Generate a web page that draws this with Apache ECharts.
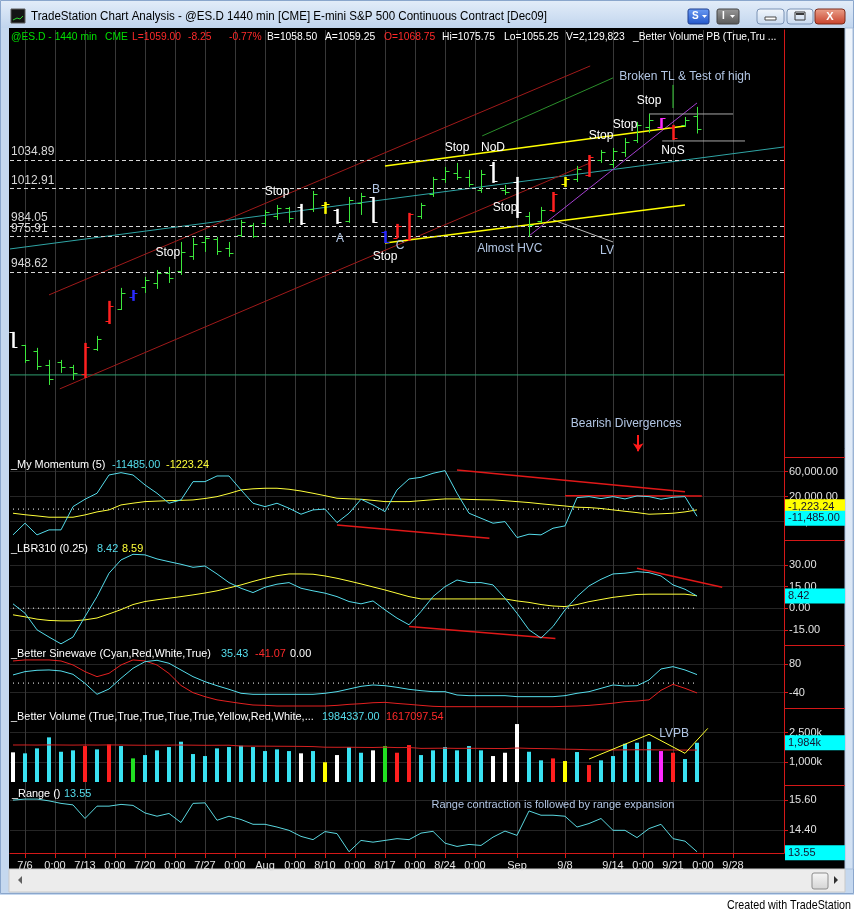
<!DOCTYPE html>
<html>
<head>
<meta charset="utf-8">
<title>TradeStation Chart Analysis - @ES.D</title>
<script src="https://cdn.jsdelivr.net/npm/echarts@6.0.0/dist/echarts.min.js"></script>
<style>
html,body{margin:0;padding:0;background:#ffffff;overflow:hidden;}
#chart{width:854px;height:913px;}
</style>
</head>
<body>
<div id="chart"></div>
<script>
// ================= DATA =================
const dates = ['7/2','7/6','7/7','7/8','7/9','7/10','7/13','7/14','7/15','7/16','7/17','7/20','7/21','7/22','7/23','7/24','7/27','7/28','7/29','7/30','7/31','8/3','8/4','8/5','8/6','8/7','8/10','8/11','8/12','8/13','8/14','8/17','8/18','8/19','8/20','8/21','8/24','8/25','8/26','8/27','8/28','8/31','9/1','9/2','9/3','9/4','9/8','9/9','9/10','9/11','9/14','9/15','9/16','9/17','9/18','9/21','9/22','9/23'];

const opens  = [902,892,888,877,879,875,870,889,911,920,929,937,940,948,949,961,972,974,967,977,985,986,992,998,999,997,1000,996,988,1002,1006,979,975,974,992,1009,1020,1025,1022,1012,1031,1012,1018,992,988,996,1016,1020,1023,1035,1032,1041,1050,1060,1060,1060,1062,1068.75];
const highs  = [902.4,892.4,890.1,880.8,880.8,877.0,893.9,899.3,926.3,936.3,934.7,944.8,950.1,952.5,971.7,974.8,976.3,975.6,971.7,988.7,986.4,996.4,1000.2,998.7,1001.0,1011.0,1002.5,997.2,1006.4,1009.5,1006.4,980.2,985.6,994.1,1001.8,1021.8,1029.5,1032.6,1027.2,1027.2,1033.3,1015.6,1021.8,994.8,998.7,1010.2,1021.8,1030.3,1038.7,1042.6,1044.1,1051.8,1064.2,1070.3,1067.2,1061.9,1068.0,1075.75];
const lows   = [890.1,878.5,873.1,861.5,870.8,865.4,866.9,887.7,908.5,919.3,926.3,932.4,935.5,940.1,946.3,957.9,964.0,961.7,960.2,975.6,974.8,984.0,988.7,986.4,984.8,994.8,993.3,985.6,986.4,992.5,986.4,970.9,974.8,972.5,989.4,1006.4,1017.2,1019.5,1014.1,1009.5,1017.2,1007.9,990.2,975.6,986.4,994.8,1014.1,1017.9,1021.8,1032.6,1028.7,1037.2,1048.0,1055.7,1058.8,1050.3,1060.3,1055.25];
const closes = [890.5,881,876,866,875,871,891,897,922,932,932,942,948,944,964,970,975,965,963,987,976,995,998,990,986,1009,1001,987,1004,1007,987,972,984,993,1000,1020,1026,1022,1016,1024,1019,1010,995,985,996,1009,1020,1028,1037,1041,1042,1049,1062,1066,1067,1052,1066,1059];
// price-bar signal code per bar (g normal, r, w, b, y, m = Better Volume PB classes)
const barSignal = ['w','g','g','g','g','g','r','g','r','g','b','g','g','g','g','g','g','g','g','g','g','g','g','g','w','g','y','w','g','g','w','b','r','r','g','g','g','g','g','g','w','g','w','g','g','r','y','g','r','g','g','g','g','g','m','r','g','g'];

const priceLevels = [1034.89, 1012.91, 984.05, 975.91, 948.62];

// trend / annotation lines in [bar index, price]
const greenFloor  = [[-0.25,869.25],[64.25,869.25]];
const tealLine    = [[-0.25,966.3],[64.25,1044.9]];
const redUpper    = [[3.0,930.9],[48.1,1107.3]];
const redLower    = [[3.9,858.5],[48.1,1032.6]];
const greenUpper  = [[39.1,1053.4],[50.0,1098.1]];
const yellowUpper = [[31.0,1030.3],[56.0,1061.1]];
const yellowLower = [[31.0,970.95],[56.0,1000.2]];
const purpleLine  = [[42.9,975.6],[57.0,1078.8]];
const lvLine      = [[45.0,988.7],[50.0,971.7]];
const grayTop     = [[53.0,1070.3],[60.0,1070.3]];
const grayLow     = [[54.1,1049.5],[61.0,1049.5]];
const greenVert   = [[55.0,1092.7],[55.0,1074.9]];
const arrowPts    = [[52.1,823.0],[52.1,810.5]];

// text annotations on the price pane
const annoText  = ['Stop','Stop','B','A','C','Stop','Stop','NoD','Stop','Almost HVC','LV','Stop','Stop','Stop','NoS','Broken TL & Test of high','Bearish Divergences'];
const annoIdx   = [12.9,22.0,30.25,27.25,32.25,31.0,37.0,40.0,41.0,41.4,49.5,49.0,51.0,53.0,55.0,56.0,51.1];
const annoPrice = [963.2,1010.2,1011.8,974.0,968.6,960.2,1044.1,1044.1,997.9,966.3,964.8,1053.4,1061.9,1080.3,1041.8,1098.8,831.5];
const annoTone  = ['w','w','b','b','b','w','w','w','w','b','b','w','w','w','w','b','b'];

// My Momentum (5)
const momValue = [-41300,-22600,-41300,-33300,-33300,4000,15800,25400,54700,58400,54700,38700,25400,9400,14700,44000,44000,53100,53100,30700,9400,4000,9400,1400,-8200,-1300,0,-21600,-6600,15800,6700,-4000,30700,48300,51000,57400,61600,25400,-6600,-14600,-22600,-20000,-45600,-40200,-41300,-30600,-26900,18400,20000,16800,20000,16300,21100,20000,15800,19000,20000,-11485];
const momAvg   = [-6600,-9000,-10900,-13000,-13000,-13000,-9300,-4500,-1300,6700,9500,12000,12800,13600,14000,14700,17000,20000,25000,30700,32500,33400,33400,31800,29000,25400,21500,17400,16500,15800,14000,12000,12000,12000,13500,15000,16300,16300,15500,15000,14700,13500,12000,10500,8500,6700,5000,3000,2500,1000,-1300,-3500,-5600,-8200,-7500,-6600,-4500,-1223.24];
const momDiv1 = [[37,62700],[56,28000]];
const momDiv2 = [[46,21600],[57.4,21100]];
const momDiv3 = [[27,-25300],[39.7,-46600]];

// LBR310 (0.25)
const lbrFast = [3.0,-3.5,-15.0,-20.0,-24.7,-20.0,-5.8,8.0,24.2,33.4,37.3,36.9,34.1,32.2,30.4,28.3,29.2,23.7,17.7,13.8,10.8,14.5,16.6,17.7,13.8,12.0,10.4,8.0,4.6,3.0,5.0,-1.2,-6.9,-11.5,-2.3,8.0,14.9,19.5,17.7,17.7,16.1,6.9,-3.5,-15.0,-20.7,-12.7,-1.2,8.0,15.4,20.0,23.7,24.2,25.3,24.6,22.3,16.1,13.1,8.42];
const lbrSlow = [-4.6,-6.0,-7.6,-8.5,-8.8,-8.8,-8.1,-6.8,-4.0,-1.0,2.5,4.6,5.8,6.9,8.0,9.2,10.5,12.0,14.0,16.1,18.5,20.7,22.5,23.7,23.7,23.5,22.3,20.7,18.8,16.8,14.7,12.6,10.3,8.0,6.4,6.4,6.4,6.4,6.4,6.4,6.4,6.4,5.0,4.0,2.5,1.5,1.1,2.5,4.5,6.0,7.5,8.5,9.5,9.7,9.7,9.7,9.7,8.59];
const lbrDiv1 = [[52,27.6],[59.1,14.5]];
const lbrDiv2 = [[33,-12.7],[45.2,-21.0]];

// Better Sinewave
const sineWave = [34,47.8,53.4,54.8,50.6,36.6,-1.0,-46.9,-24.7,20.1,61.8,89.5,95.2,82.7,54.8,26.8,5.9,-10.9,-26.0,-42.6,-46.9,-46.9,-46.9,-46.9,-46.9,-46.9,-42.6,-35.9,-24.7,-13.5,-7.9,-10.9,-17.6,-26.0,-31.6,-35.9,-35.9,-49.7,-52.5,-52.5,-52.5,-52.5,-56.7,-56.7,-56.7,-56.7,-52.5,-42.6,-35.9,-21.9,-7.9,-12.1,-10.9,13.0,58.9,68.6,54.8,35.43];
const leadWave = [92.4,96.6,96.6,96.6,92.4,75.7,47.8,26.8,40.8,75.7,96.6,92.4,75.7,40,-10,-40,-56.7,-70,-77.6,-85,-91.5,-93,-95.7,-95.7,-95.7,-95.7,-95.7,-93,-88.8,-86,-82,-80.4,-85,-88.8,-93,-97,-98.5,-98.5,-98.5,-98.5,-98.5,-98.5,-98.5,-98.5,-98.5,-98.5,-97,-95.7,-93,-88.8,-84,-77.6,-74.8,-70,-30,-5.2,-21.9,-41.07];

// Better Volume
const volumes = [1500000,1450000,1700000,2257000,1530000,1600000,1818000,1650000,1900000,1818000,1195000,1363000,1600000,1767000,2037000,1414000,1313000,1700000,1767000,1835000,1767000,1565000,1650000,1565000,1450000,1565000,1000000,1363000,1767000,1480000,1600000,1818000,1480000,1868000,1363000,1600000,1767000,1600000,1818000,1600000,1313000,1480000,2929000,1530000,1096000,1195000,1060000,1515000,858000,1096000,1313000,1935000,1985000,2037000,1565000,1480000,1161000,1984337];
const volSignal = ['w','c','c','c','c','c','r','c','r','c','g','c','c','c','c','c','c','c','c','c','c','c','c','c','w','c','y','w','c','c','w','g','r','r','c','c','c','c','c','c','w','w','w','c','c','r','y','c','r','c','c','c','c','c','m','r','c','c'];
const volAvg = [1870000,1872000,1868000,1875000,1870000,1866000,1872000,1868000,1874000,1870000,1862000,1858000,1860000,1864000,1870000,1862000,1855000,1858000,1860000,1820000,1815000,1812000,1808000,1805000,1800000,1790000,1760000,1755000,1758000,1750000,1745000,1760000,1740000,1745000,1700000,1705000,1710000,1700000,1705000,1700000,1695000,1690000,1720000,1700000,1690000,1680000,1660000,1650000,1630000,1625000,1620000,1625000,1630000,1628000,1622000,1618000,1615000,1617097.54];
const lvpbLine = [[48,1161000],[53,2410000],[56,1450000],[57.9,2712000]];

// Range ()
const rangeVals = [15.60,15.64,15.64,15.57,15.47,15.41,14.87,15.36,15.36,15.43,15.39,15.09,14.96,15.07,14.71,15.47,15.49,14.80,14.96,14.83,14.64,14.64,14.53,14.40,14.16,14.03,14.35,14.27,13.55,14.00,13.93,14.00,14.07,14.03,14.29,14.36,13.89,13.76,13.84,13.80,14.13,14.37,14.20,15.17,15.00,15.00,14.96,14.53,14.67,14.87,14.40,14.40,14.11,14.47,14.64,14.07,13.97,13.55];

// axis ticks
const tickIndex  = [1,3.5,6,8.5,11,13.5,16,18.5,21,23.5,26,28.5,31,33.5,36,38.5,42,46,50,52.5,55,57.5,60];
const tickLabels = ['7/6','0:00','7/13','0:00','7/20','0:00','7/27','0:00','Aug','0:00','8/10','0:00','8/17','0:00','8/24','0:00','Sep','9/8','9/14','0:00','9/21','0:00','9/28'];
const momTicks   = [60000, 20000, -20000];
const lbrTicks   = [30, 15, 0, -15];
const sineTicks  = [80, -40];
const volTicks   = [2500000, 1000000];
const rangeTicks = [15.6, 14.4];

// ================= STYLE / LAYOUT =================
const FONT = 'Arial, "Liberation Sans", Helvetica, sans-serif';
const AX = '#e2e2e2', RED_AX = '#d41818', GRID_V = '#383838', GRID_H = '#252525';
const CYAN = '#55dceb', YEL = '#ffff3a', LBLUE = '#b2c6e4', RED = '#ff2a2a';
const priceColor = {g:'#3ce83c', r:'#ff2020', w:'#ffffff', b:'#2a2aff', y:'#ffff00', m:'#ff2aff'};
const volColor   = {c:'#3ae2f2', r:'#ff2020', w:'#ffffff', g:'#22e022', y:'#ffff00', m:'#ff2aff'};

const _ctx = document.createElement('canvas').getContext('2d');
function fit(text, font, target){ _ctx.font = font; const w = _ctx.measureText(text).width; const s = w > 0 ? target / w : 1; return Math.max(0.7, Math.min(1.1, s)); }
const LEG_FONT = '11px ' + FONT;
const LEG_S = fit('_Better Sinewave (Cyan,Red,White,True)', LEG_FONT, 200);
const HDR_S = fit('@ES.D - 1440 min', LEG_FONT, 86);

const grids = [
  {left:10, right:70, top:30,  height:427},
  {left:10, right:70, top:457, height:83},
  {left:10, right:70, top:540, height:105},
  {left:10, right:70, top:645, height:63},
  {left:10, right:70, top:708, height:77},
  {left:10, right:70, top:785, height:68}
];

function xAxisFor(gi){
  const last = gi === 5;
  return {type:'value', gridIndex:gi, min:-0.25, max:64.25,
    axisLine:{show:last, onZero:false, lineStyle:{color:RED_AX}},
    axisTick:{show:last, customValues:tickIndex, length:5, lineStyle:{color:RED_AX}},
    axisLabel:{show:last, customValues:tickIndex, color:AX, fontFamily:FONT, fontSize:11, margin:7, hideOverlap:false,
      formatter: v => { const k = tickIndex.indexOf(v); return k < 0 ? '' : tickLabels[k]; }},
    splitLine:{show:true, lineStyle:{color:GRID_V, width:1}}};
}
function yAxisFor(gi, min, max, vals, fmt){
  const ax = {type:'value', gridIndex:gi, position:'right', min, max,
    axisLine:{show:true, onZero:false, lineStyle:{color:RED_AX}},
    axisTick:{show:!!vals, length:4, lineStyle:{color:RED_AX}},
    axisLabel:{show:!!vals, color:AX, fontFamily:FONT, fontSize:11, margin:5, formatter:fmt},
    splitLine:{show:!!vals, lineStyle:{color:GRID_H}}};
  if (vals) { ax.axisTick.customValues = vals; ax.axisLabel.customValues = vals; }
  return ax;
}
const fmt2 = v => v.toFixed(2);
const fmtMom = v => v.toLocaleString('en-US', {minimumFractionDigits:2, maximumFractionDigits:2});
const fmtVol = v => (v/1000).toLocaleString('en-US') + 'k';

function line(gi, data, color, o){
  o = o || {};
  const s = {type:'line', xAxisIndex:gi, yAxisIndex:gi, data, showSymbol:false, symbol:'none', silent:true,
    lineStyle:{color, width:o.width || 1, type:o.type || 'solid'}, z:o.z || 3};
  if (o.markLine) { s.markLine = o.markLine; s.clip = false; }
  return s;
}
function valueBox(value, text, bg, dy){
  return {silent:true, symbol:'none', animation:false,
    lineStyle:{color:'rgba(0,0,0,0)', width:0},
    label:{show:true, position:'end', distance:1, formatter:text, backgroundColor:bg, color:'#141430',
      fontFamily:FONT, fontSize:11, padding:[2,3,2,3], width:54, lineHeight:11, offset:[0, dy || 0]},
    data:[{yAxis:value}]};
}
function textSeries(gi, xs, ys, texts, colorFn, size){
  return {type:'custom', xAxisIndex:gi, yAxisIndex:gi, silent:true, z:8, clip:false,
    data: xs.map((x, k) => [x, ys[k], k]),
    renderItem: (params, api) => {
      const k = api.value(2);
      const p = api.coord([api.value(0), api.value(1)]);
      return {type:'text', x:p[0], y:p[1], style:{text:texts[k], fill:colorFn(k), font:size + 'px ' + FONT, align:'center', verticalAlign:'middle'}};
    }};
}
const idx = a => a.map((v, i) => [i, v]);

// ---------- series ----------
const series = [];
// price pane lines
series.push(Object.assign(line(0, greenFloor, '#2f9f70'), {markLine:{silent:true, symbol:'none', animation:false,
  lineStyle:{color:'#d6d6d6', width:1, type:[4,3]},
  label:{show:true, position:'insideStartTop', color:'#d8d8d8', fontFamily:FONT, fontSize:12, distance:[1,2], formatter:p => p.value.toFixed(2)},
  data: priceLevels.map(v => ({yAxis:v}))}}));
series.push(Object.assign(line(0, tealLine, '#2fa5a5'), {markLine:{silent:true, symbol:['none','arrow'], symbolSize:8, animation:false,
  lineStyle:{color:'#ff1a1a', width:2, type:'solid'}, label:{show:false},
  data:[[{coord:arrowPts[0]},{coord:arrowPts[1]}]]}}));
series.push(line(0, redUpper, '#a01a1a'));
series.push(line(0, redLower, '#a01a1a'));
series.push(line(0, greenUpper, '#2b8f2b'));
series.push(line(0, purpleLine, '#a43fcf'));
series.push(line(0, lvLine, '#b8b8b8'));
series.push(line(0, grayTop, '#a8a8a8'));
series.push(line(0, grayLow, '#a8a8a8'));
series.push(line(0, greenVert, '#33cc33'));
series.push(line(0, yellowUpper, '#ffff00', {width:1.5}));
series.push(line(0, yellowLower, '#ffff00', {width:1.5}));
// OHLC bars
series.push({type:'custom', xAxisIndex:0, yAxisIndex:0, silent:true, z:5,
  data: dates.map((d, i) => [i, opens[i], closes[i], lows[i], highs[i]]),
  encode:{x:0, y:[1,2,3,4]},
  renderItem: (params, api) => {
    const i = api.value(0);
    const pO = api.coord([i, api.value(1)]), pC = api.coord([i, api.value(2)]);
    const pL = api.coord([i, api.value(3)]), pH = api.coord([i, api.value(4)]);
    const code = barSignal[params.dataIndex];
    const col = priceColor[code];
    const w = code === 'g' ? 1 : 2.5;
    const x = Math.round(pH[0]) + 0.5;
    const yo = Math.round(pO[1]) + 0.5, yc = Math.round(pC[1]) + 0.5;
    return {type:'group', children:[
      {type:'line', shape:{x1:x, y1:pH[1], x2:x, y2:pL[1]}, style:{stroke:col, lineWidth:w}},
      {type:'line', shape:{x1:x - 4, y1:yo, x2:x, y2:yo}, style:{stroke:col, lineWidth:1}},
      {type:'line', shape:{x1:x, y1:yc, x2:x + 4, y2:yc}, style:{stroke:col, lineWidth:1}}
    ]};
  }});
series.push(textSeries(0, annoIdx, annoPrice, annoText, k => annoTone[k] === 'w' ? '#ffffff' : LBLUE, 12));

// momentum pane
series.push(line(1, [[0,0],[57,0]], '#ffffff', {type:[1,4]}));
series.push(line(1, momDiv1, '#e01818', {width:1.5}));
series.push(line(1, momDiv2, '#e01818', {width:1.5}));
series.push(line(1, momDiv3, '#e01818', {width:1.5}));
series.push(line(1, idx(momAvg), YEL, {markLine:valueBox(-1223.24, '-1,223.24', '#ffff00', -3), z:4}));
series.push(line(1, idx(momValue), CYAN, {markLine:valueBox(-11485, '-11,485.00', '#00ffff', 2), z:5}));

// LBR pane
series.push(line(2, [[0,0],[57,0]], '#ffffff', {type:[1,4]}));
series.push(line(2, lbrDiv1, '#e01818', {width:1.5}));
series.push(line(2, lbrDiv2, '#e01818', {width:1.5}));
series.push(line(2, idx(lbrSlow), YEL));
series.push(line(2, idx(lbrFast), CYAN, {markLine:valueBox(8.42, '8.42', '#00ffff'), z:5}));

// Sinewave pane
series.push(line(3, [[0,0],[57,0]], '#ffffff', {type:[1,4]}));
series.push(line(3, idx(leadWave), '#e42020'));
series.push(line(3, idx(sineWave), CYAN));

// Volume pane
series.push({type:'bar', xAxisIndex:4, yAxisIndex:4, silent:true, barWidth:4, z:3,
  data: volumes.map((v, i) => ({value:[i, v], itemStyle:{color:volColor[volSignal[i]]}}))});
series.push(line(4, idx(volAvg), '#d42020', {z:4}));
series.push(line(4, lvpbLine, '#ffff30', {z:5, markLine:valueBox(1984337, '1,984k', '#00ffff')}));
series.push(textSeries(4, [55.1], [2420000], ['LVPB'], () => LBLUE, 12));

// Range pane
series.push(line(5, idx(rangeVals), '#5ad6de', {markLine:valueBox(13.55, '13.55', '#00ffff', 1)}));
series.push(textSeries(5, [45.0], [15.4], ['Range contraction is followed by range expansion'], () => LBLUE, 11));

// ---------- chrome & legends ----------
const G = [];
function txt(x, y, text, fill, font, sx, align){
  G.push({type:'text', x, y, scaleX:sx || 1, z:20, silent:true,
    style:{text, fill, font, verticalAlign:'middle', align:align || 'left'}});
}
function rect(x, y, w, h, fill, stroke, r, z){
  G.push({type:'rect', silent:true, z:(z === undefined ? -10 : z), shape:{x, y, width:w, height:h, r:r || 0},
    style:{fill, stroke:stroke || null, lineWidth:1}});
}
const grad = (a, b) => ({type:'linear', x:0, y:0, x2:0, y2:1, colorStops:[{offset:0, color:a},{offset:1, color:b}]});

// frame
rect(0, 0, 854, 913, '#c5d8ef', null, 0, -12);
rect(0, 0, 854, 28, grad('#e3edf9', '#c1d5ee'), null, 0, -11);
rect(0.5, 0.5, 853, 893, null, '#8aa6cc', 0, -11);
rect(9, 28, 836, 841, '#000000', null, 0, -10);
rect(845, 28, 8, 841, grad('#eef4fb', '#d2e1f3'), '#a9bfdc', 0, -10);
// scroll bar
rect(9, 869, 836, 23, '#ececec', '#c9c9c9', 0, -10);
G.push({type:'polygon', silent:true, z:5, shape:{points:[[18,880],[22,876],[22,884]]}, style:{fill:'#606060'}});
G.push({type:'polygon', silent:true, z:5, shape:{points:[[838,880],[834,876],[834,884]]}, style:{fill:'#303030'}});
rect(812, 873, 16, 16, grad('#f7f7f7', '#d4d4d4'), '#8c8c8c', 2, 5);
// bottom white strip
rect(0, 895, 854, 18, '#ffffff', null, 0, -9);
// title bar items
rect(11, 9, 14, 14, '#141414', '#5a5a5a', 0, 5);
G.push({type:'polyline', silent:true, z:6, shape:{points:[[13,20],[17,18],[20,19],[23,16]]}, style:{stroke:'#2fd42f', lineWidth:1}});
const TITLE = 'TradeStation Chart Analysis - @ES.D 1440 min [CME] E-mini S&P 500 Continuous Contract [Dec09]';
const TF = '12px "Liberation Sans", Arial, sans-serif';
txt(31, 17, TITLE, '#000000', TF, fit(TITLE, TF, 516));
rect(688, 9, 21, 15, grad('#6c9cf4', '#2356c9'), '#1f3f8f', 2, 5);
txt(692, 16.5, 'S', '#ffffff', 'bold 10px ' + FONT, 1);
G.push({type:'polygon', silent:true, z:21, shape:{points:[[702,15],[707,15],[704.5,18]]}, style:{fill:'#ffffff'}});
rect(717, 9, 22, 15, grad('#9a9a9a', '#575757'), '#454545', 2, 5);
txt(722, 16.5, 'I', '#ffffff', 'bold 10px ' + FONT, 1);
G.push({type:'polygon', silent:true, z:21, shape:{points:[[730,15],[735,15],[732.5,18]]}, style:{fill:'#ffffff'}});
rect(757, 9, 27, 15, grad('#f3f7fc', '#c7d8ee'), '#7b93b5', 3, 5);
rect(765, 17, 11, 3, '#ffffff', '#4a4a4a', 0, 6);
rect(787, 9, 26, 15, grad('#f3f7fc', '#c7d8ee'), '#7b93b5', 3, 5);
rect(795, 12, 10, 8, null, '#3a3a3a', 0, 6);
rect(796, 13, 8, 2, '#3a3a3a', null, 0, 6);
rect(815, 9, 30, 15, grad('#eba28c', '#c7402a'), '#7a2a1a', 3, 5);
txt(830, 16.5, 'X', '#ffffff', 'bold 11px ' + FONT, 1, 'center');

// right axis separators
[457, 540, 645, 708, 785].forEach(y => G.push({type:'line', silent:true, z:10, shape:{x1:784, y1:y + 0.5, x2:845, y2:y + 0.5}, style:{stroke:RED_AX, lineWidth:1}}));

// header line of the price pane
const HY = 37;
[[11,'@ES.D - 1440 min','#00e000'],[105,'CME','#00e000'],[132,'L=1059.00',RED],[188,'-8.25',RED],[229,'-0.77%',RED],
 [267,'B=1058.50','#ffffff'],[325,'A=1059.25','#ffffff'],[384,'O=1068.75',RED],[442,'Hi=1075.75','#ffffff'],
 [504,'Lo=1055.25','#ffffff'],[566,'V=2,129,823','#ffffff'],[633,'_Better Volume PB (True,Tru ...','#ffffff']]
 .forEach(s => txt(s[0], HY, s[1], s[2], LEG_FONT, HDR_S));
// indicator legends
[[11,465,'_My Momentum (5)','#ffffff'],[112,465,'-11485.00',CYAN],[166,465,'-1223.24',YEL],
 [11,549,'_LBR310 (0.25)','#ffffff'],[97,549,'8.42',CYAN],[122,549,'8.59',YEL],
 [11,654,'_Better Sinewave (Cyan,Red,White,True)','#ffffff'],[221,654,'35.43',CYAN],[255,654,'-41.07',RED],[290,654,'0.00','#ffffff'],
 [11,717,'_Better Volume (True,True,True,True,True,Yellow,Red,White,...','#ffffff'],[322,717,'1984337.00',CYAN],[386,717,'1617097.54',RED],
 [12,794,'_Range ()','#ffffff'],[64,794,'13.55',CYAN]]
 .forEach(s => txt(s[0], s[1], s[2], s[3], LEG_FONT, LEG_S));
// footer
const CF = '13px ' + FONT;
txt(851, 905, 'Created with TradeStation', '#000000', CF, fit('Created with TradeStation', CF, 124), 'right');

const option = {
  backgroundColor:'#c5d8ef',
  animation:false,
  grid: grids,
  xAxis: [0,1,2,3,4,5].map(xAxisFor),
  yAxis: [
    yAxisFor(0, 806, 1135, null, null),
    yAxisFor(1, -49500, 83500, momTicks, fmtMom),
    yAxisFor(2, -25.5, 47.2, lbrTicks, fmt2),
    yAxisFor(3, -104, 159, sineTicks, v => String(v)),
    yAxisFor(4, -150000, 3740000, volTicks, fmtVol),
    yAxisFor(5, 13.5, 16.2, rangeTicks, fmt2)
  ],
  series,
  graphic:{elements:G}
};
const chart = echarts.init(document.getElementById('chart'), null, {renderer:'canvas'});
chart.setOption(option);
</script>
</body>
</html>
